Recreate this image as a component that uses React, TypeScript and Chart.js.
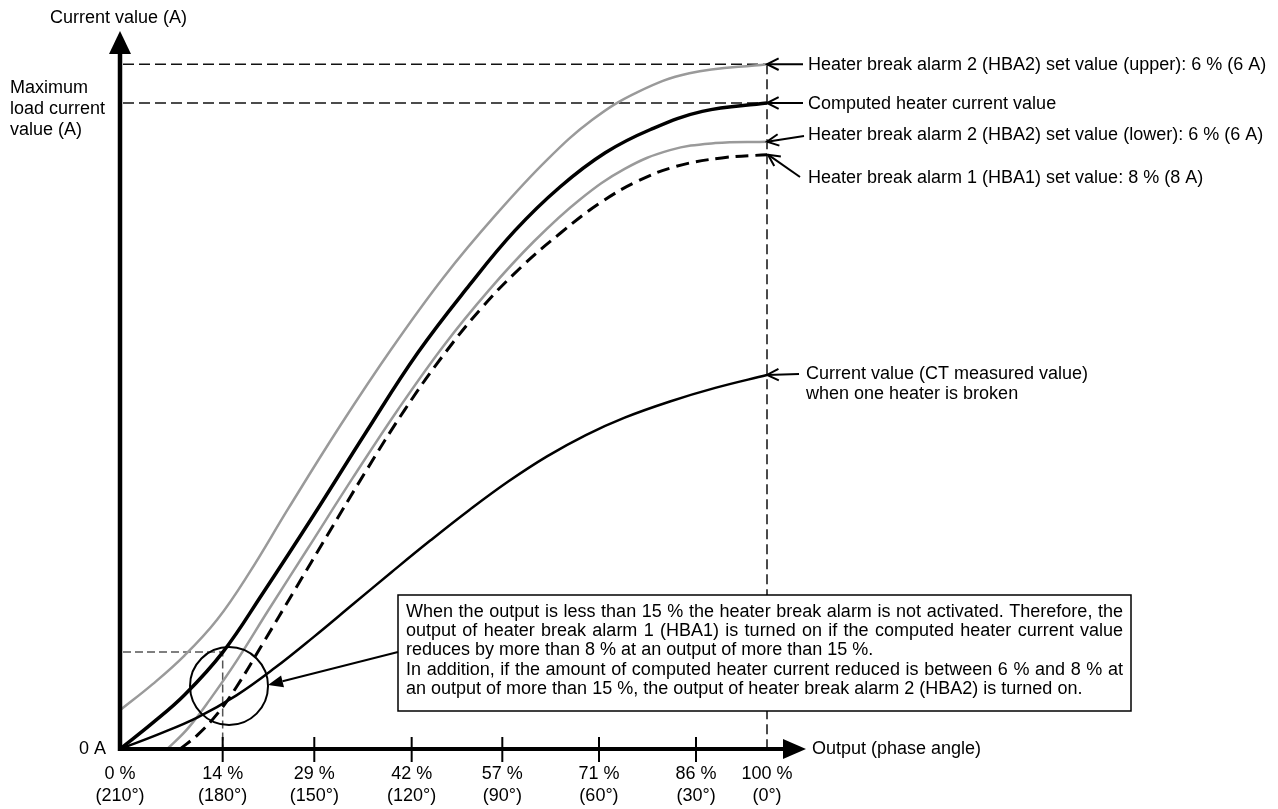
import React, { useEffect, useRef } from "react";
import { Chart, registerables } from "chart.js";

Chart.register(...registerables);

// ---- Axis ticks (x positions in chart units, 100 = 100 % output) ----
const tickPositions = [0, 15.87, 30.03, 45.08, 59.09, 74.03, 89.03, 100];
const tickPercentLabels = ["0 %", "14 %", "29 %", "42 %", "57 %", "71 %", "86 %", "100 %"];
const tickAngleLabels = ["(210°)", "(180°)", "(150°)", "(120°)", "(90°)", "(60°)", "(30°)", "(0°)"];

// ---- Series (x = output position, y = current, 100 = computed max) ----
const computedX = [0, 5, 10, 15.9, 22, 30, 38, 46, 54, 61, 68, 75, 82, 90, 100];
const computedY = [0, 4.0, 8.4, 15.0, 24.0, 36.3, 49.0, 61.3, 71.8, 80.2, 87.0, 92.3, 95.9, 98.7, 100];

const upperX = [0, 5, 10, 15, 20, 26, 34, 42, 50, 58, 66, 73, 80, 88, 100];
const upperY = [6.0, 10.0, 14.5, 20.0, 27.3, 37.2, 50.0, 62.0, 73.0, 82.6, 91.2, 97.4, 101.7, 104.6, 106];

const lowerX = [7.3, 10.5, 14, 18, 23, 29, 36, 43, 50, 57, 64, 71, 78, 85, 92, 100];
const lowerY = [0, 3.2, 7.8, 13.6, 21.6, 31.0, 42.0, 52.6, 62.4, 71.0, 78.6, 85.0, 89.8, 92.7, 93.8, 94];

const hba1X = [9.3, 12, 15, 18, 22, 27, 32, 38, 44, 50, 56, 62, 68, 74, 80, 86, 93, 100];
const hba1Y = [0, 2.2, 5.4, 9.6, 16.2, 24.6, 33.0, 43.0, 52.5, 61.0, 68.4, 74.6, 79.8, 84.4, 87.9, 90.2, 91.5, 92];

const ctX = [0, 6, 12, 18, 24, 30, 36, 42, 48, 54, 60, 66, 72, 78, 85, 92, 100];
const ctY = [0, 2.3, 4.9, 8.3, 12.6, 17.4, 22.4, 27.4, 32.3, 37.0, 41.4, 45.3, 48.6, 51.3, 53.8, 55.9, 57.9];

// ---- Texts ----
const yAxisTitle = "Current value (A)";
const yMaxLabel = ["Maximum", "load current", "value (A)"];
const zeroLabel = "0 A";
const xAxisTitle = "Output (phase angle)";
const labelUpper = "Heater break alarm 2 (HBA2) set value (upper): 6 % (6 A)";
const labelComputed = "Computed heater current value";
const labelLower = "Heater break alarm 2 (HBA2) set value (lower): 6 % (6 A)";
const labelHba1 = "Heater break alarm 1 (HBA1) set value: 8 % (8 A)";
const labelCt = ["Current value (CT measured value)", "when one heater is broken"];
const noteLines = [
  "When the output is less than 15 % the heater break alarm is not activated. Therefore, the",
  "output of heater break alarm 1 (HBA1) is turned on if the computed heater current value",
  "reduces by more than 8 % at an output of more than 15 %.",
  "In addition, if the amount of computed heater current reduced is between 6 % and 8 % at",
  "an output of more than 15 %, the output of heater break alarm 2 (HBA2) is turned on.",
];
const noteJustified = [true, true, false, true, false];

const FONT = "18px 'Liberation Sans', Arial, Helvetica, sans-serif";
const GRAY = "#9a9a9a";

const zip = (xs: number[], ys: number[]) => xs.map((x, i) => ({ x, y: ys[i] }));
const last = (a: number[]) => a[a.length - 1];

function openArrow(ctx: CanvasRenderingContext2D, x1: number, y1: number, x2: number, y2: number) {
  ctx.beginPath();
  ctx.moveTo(x1, y1);
  ctx.lineTo(x2, y2);
  ctx.stroke();
  const a = Math.atan2(y2 - y1, x2 - x1);
  const L = 13;
  const w = 0.46;
  ctx.beginPath();
  ctx.moveTo(x2 - L * Math.cos(a - w), y2 - L * Math.sin(a - w));
  ctx.lineTo(x2, y2);
  ctx.lineTo(x2 - L * Math.cos(a + w), y2 - L * Math.sin(a + w));
  ctx.stroke();
}

function filledArrow(ctx: CanvasRenderingContext2D, x1: number, y1: number, x2: number, y2: number) {
  const a = Math.atan2(y2 - y1, x2 - x1);
  const L = 15;
  const hw = 6;
  const bx = x2 - L * Math.cos(a);
  const by = y2 - L * Math.sin(a);
  ctx.beginPath();
  ctx.moveTo(x1, y1);
  ctx.lineTo(bx, by);
  ctx.stroke();
  ctx.beginPath();
  ctx.moveTo(x2, y2);
  ctx.lineTo(bx + hw * Math.sin(a), by - hw * Math.cos(a));
  ctx.lineTo(bx - hw * Math.sin(a), by + hw * Math.cos(a));
  ctx.closePath();
  ctx.fill();
}

const guidesPlugin = {
  id: "guides",
  beforeDatasetsDraw(chart: any) {
    const ctx: CanvasRenderingContext2D = chart.ctx;
    const xs = chart.scales.x;
    const ys = chart.scales.y;
    const x0 = xs.getPixelForValue(0);
    const xEnd = xs.getPixelForValue(100);
    const y0 = ys.getPixelForValue(0);
    const yUpper = ys.getPixelForValue(last(upperY));
    const yComp = ys.getPixelForValue(last(computedY));
    ctx.save();
    ctx.strokeStyle = "#111";
    ctx.lineWidth = 1.5;
    ctx.setLineDash([11, 5]);
    ctx.beginPath();
    ctx.moveTo(x0 + 3, yUpper);
    ctx.lineTo(xEnd, yUpper);
    ctx.moveTo(x0 + 3, yComp);
    ctx.lineTo(xEnd, yComp);
    ctx.stroke();
    ctx.setLineDash([10, 5]);
    ctx.beginPath();
    ctx.moveTo(xEnd, yUpper);
    ctx.lineTo(xEnd, y0);
    ctx.stroke();
    // 14 % guide
    const tx = xs.getPixelForValue(tickPositions[1]);
    const ty = ys.getPixelForValue(computedY[3]);
    ctx.strokeStyle = "#555";
    ctx.setLineDash([8, 4]);
    ctx.beginPath();
    ctx.moveTo(x0 + 3, ty);
    ctx.lineTo(tx, ty);
    ctx.lineTo(tx, y0);
    ctx.stroke();
    ctx.restore();
  },
  afterDatasetsDraw(chart: any) {
    const ctx: CanvasRenderingContext2D = chart.ctx;
    const xs = chart.scales.x;
    const ys = chart.scales.y;
    const x0 = xs.getPixelForValue(0);
    const xEnd = xs.getPixelForValue(100);
    const y0 = ys.getPixelForValue(0);
    ctx.save();
    ctx.setLineDash([]);
    ctx.fillStyle = "#000";
    ctx.strokeStyle = "#000";

    // y axis
    ctx.lineWidth = 4.5;
    ctx.beginPath();
    ctx.moveTo(x0, y0 + 2);
    ctx.lineTo(x0, 52);
    ctx.stroke();
    ctx.beginPath();
    ctx.moveTo(x0, 31);
    ctx.lineTo(x0 - 11, 54);
    ctx.lineTo(x0 + 11, 54);
    ctx.closePath();
    ctx.fill();

    // x axis
    ctx.lineWidth = 4;
    ctx.beginPath();
    ctx.moveTo(x0 - 2, y0);
    ctx.lineTo(785, y0);
    ctx.stroke();
    ctx.beginPath();
    ctx.moveTo(806, y0);
    ctx.lineTo(783, y0 - 10);
    ctx.lineTo(783, y0 + 10);
    ctx.closePath();
    ctx.fill();

    // ticks
    ctx.lineWidth = 2;
    for (let i = 1; i < tickPositions.length - 1; i++) {
      const tx = xs.getPixelForValue(tickPositions[i]);
      ctx.beginPath();
      ctx.moveTo(tx, y0 - 12);
      ctx.lineTo(tx, y0 + 13);
      ctx.stroke();
    }

    ctx.font = FONT;
    ctx.textBaseline = "middle";
    ctx.textAlign = "center";
    for (let i = 0; i < tickPositions.length; i++) {
      const tx = xs.getPixelForValue(tickPositions[i]);
      ctx.fillText(tickPercentLabels[i], tx, y0 + 25);
      ctx.fillText(tickAngleLabels[i], tx, y0 + 47);
    }

    ctx.textAlign = "left";
    ctx.fillText(xAxisTitle, 812, y0);
    ctx.fillText(yAxisTitle, 50, 18);
    yMaxLabel.forEach((t, i) => ctx.fillText(t, 10, 88 + i * 21));
    ctx.textAlign = "right";
    ctx.fillText(zeroLabel, 106, y0);

    // circle
    ctx.lineWidth = 2;
    const cx = xs.getPixelForValue(16.85);
    const cy = ys.getPixelForValue(9.75);
    ctx.beginPath();
    ctx.arc(cx, cy, 39, 0, Math.PI * 2);
    ctx.stroke();

    // note box
    const bx = 398, by = 595, bw = 733, bh = 116;
    ctx.fillStyle = "#fff";
    ctx.fillRect(bx, by, bw, bh);
    ctx.lineWidth = 1.5;
    ctx.strokeRect(bx, by, bw, bh);
    ctx.fillStyle = "#000";
    ctx.textAlign = "left";
    const left = 406, right = 1123;
    noteLines.forEach((line, i) => {
      const y = 612 + i * 19.2;
      if (noteJustified[i]) {
        const words = line.split(" ");
        const wordsW = words.reduce((s, w) => s + ctx.measureText(w).width, 0);
        const gap = (right - left - wordsW) / (words.length - 1);
        let x = left;
        words.forEach((w) => {
          ctx.fillText(w, x, y);
          x += ctx.measureText(w).width + gap;
        });
      } else {
        ctx.fillText(line, left, y);
      }
    });

    // arrow from box to circle
    ctx.lineWidth = 2;
    filledArrow(ctx, bx, 652, cx + 39, cy - 1);

    // right side labels
    ctx.lineWidth = 2;
    const tipUpper = ys.getPixelForValue(last(upperY));
    const tipComp = ys.getPixelForValue(last(computedY));
    const tipLower = ys.getPixelForValue(last(lowerY));
    const tipHba1 = ys.getPixelForValue(last(hba1Y));
    const tipCt = ys.getPixelForValue(last(ctY));
    openArrow(ctx, 803, tipUpper, xEnd, tipUpper);
    openArrow(ctx, 803, tipComp, xEnd, tipComp);
    openArrow(ctx, 804, 136, xEnd, tipLower);
    openArrow(ctx, 800, 177, xEnd + 1, tipHba1);
    openArrow(ctx, 799, tipCt - 1, xEnd, tipCt);

    ctx.textAlign = "left";
    ctx.fillText(labelUpper, 808, tipUpper + 1);
    ctx.fillText(labelComputed, 808, tipComp + 1);
    ctx.fillText(labelLower, 808, 135);
    ctx.fillText(labelHba1, 808, 178);
    ctx.fillText(labelCt[0], 806, tipCt - 1);
    ctx.fillText(labelCt[1], 806, tipCt + 19);
    ctx.restore();
  },
};

export default function App() {
  const ref = useRef<HTMLCanvasElement>(null);
  useEffect(() => {
    document.body.style.margin = "0";
    const base = {
      pointRadius: 0,
      pointHoverRadius: 0,
      fill: false,
      tension: 0.4,
      clip: false as any,
    };
    const chart = new Chart(ref.current as HTMLCanvasElement, {
      type: "line",
      data: {
        datasets: [
          { ...base, label: "CT", data: zip(ctX, ctY), borderColor: "#000", borderWidth: 2.5 },
          { ...base, label: "Computed", data: zip(computedX, computedY), borderColor: "#000", borderWidth: 3.5 },
          { ...base, label: "HBA1", data: zip(hba1X, hba1Y), borderColor: "#000", borderWidth: 3, borderDash: [13, 7] },
          { ...base, label: "HBA2 lower", data: zip(lowerX, lowerY), borderColor: GRAY, borderWidth: 2.5 },
          { ...base, label: "HBA2 upper", data: zip(upperX, upperY), borderColor: GRAY, borderWidth: 2.5 },
        ],
      },
      options: {
        responsive: false,
        animation: false,
        devicePixelRatio: 1,
        layout: { padding: { left: 120, right: 511, top: 103, bottom: 60 } },
        scales: {
          x: { type: "linear", min: 0, max: 100, display: false },
          y: { type: "linear", min: 0, max: 100, display: false },
        },
        plugins: {
          legend: { display: false },
          tooltip: { enabled: false },
        },
        events: [],
      },
      plugins: [guidesPlugin],
    });
    return () => chart.destroy();
  }, []);
  return (
    <div style={{ position: "absolute", left: 0, top: 0, width: 1278, height: 809, background: "#fff" }}>
      <canvas ref={ref} width={1278} height={809} style={{ display: "block", width: 1278, height: 809 }} />
    </div>
  );
}
